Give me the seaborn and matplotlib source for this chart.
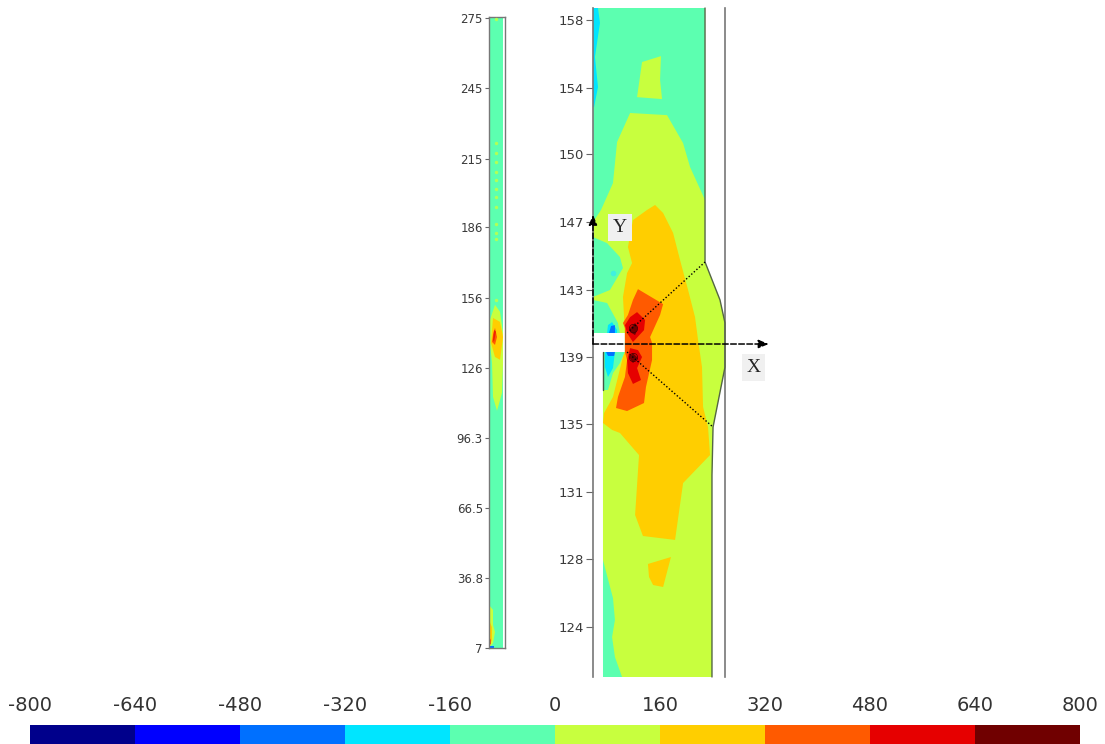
import numpy as np
import pandas as pd
import seaborn as sns
import matplotlib.pyplot as plt
from matplotlib.colors import ListedColormap

# contour bands, low to high
band_edges = [-800, -640, -480, -320, -160, 0, 160, 320, 480, 640, 800]
band_colors = ["#00008b", "#0000ff", "#0070ff", "#00e5ff", "#5cffb0",
               "#c8ff3e", "#ffce00", "#ff5a00", "#e60000", "#700000"]

# zoomed panel, outline of the plate (x mm, y mm)
plate_x = [0, 6.28, 6.28, 7.12, 7.40, 7.40, 6.73, 6.67, 6.67, 0.56, 0.56, 1.79, 1.79, 0]
plate_y = [158.60, 158.60, 144.35, 142.22, 140.93, 138.46, 135.09, 132.40, 121.07,
           121.07, 139.30, 139.30, 140.37, 140.37]

green_x = [2.08, 4.15, 5.05, 5.44, 6.28, 6.28, 7.12, 7.40, 7.40, 6.73, 6.67, 6.67,
           1.63, 1.23, 1.07, 1.23, 1.12, 0.56, 0.56, 1.79, 1.79, 0, 0, 0.45, 1.12, 1.35]
green_y = [152.71, 152.59, 151.02, 149.68, 147.83, 144.35, 142.22, 140.93, 138.46,
           135.09, 132.40, 121.07, 121.07, 122.19, 123.31, 124.27, 125.50, 127.63,
           139.30, 139.30, 140.37, 140.37, 146.59, 147.27, 148.78, 151.08]
green_top_x = [2.75, 3.81, 3.76, 3.87, 2.47]
green_top_y = [155.57, 155.90, 154.56, 153.49, 153.60]

teal_a_x = [0, 0.79, 1.51, 1.68, 0.95, 0]
teal_a_y = [145.75, 145.41, 144.63, 144.01, 142.78, 142.39]
teal_b_x = [0, 0.79, 1.40, 1.51, 0]
teal_b_y = [142.22, 142.05, 140.93, 140.37, 140.37]
teal_c_x = [0.56, 1.79, 1.51, 1.12, 0.84, 0.56]
teal_c_y = [139.30, 139.30, 138.68, 138.12, 137.17, 137.17]

cyan_top_x = [0, 0.28, 0.39, 0.11, 0.28, 0.06, 0]
cyan_top_y = [158.60, 158.60, 157.76, 155.85, 154.16, 153.04, 153.04]
cyan_a_x = [0.79, 0.84, 1.07, 1.35, 1.35]
cyan_a_y = [140.37, 140.81, 140.98, 140.53, 140.37]
cyan_b_x = [0.67, 1.23, 1.12, 0.84, 0.67]
cyan_b_y = [139.30, 139.30, 138.40, 137.90, 138.46]
blue_a_x = [0.90, 1.01, 1.23, 1.23]
blue_a_y = [140.37, 140.76, 140.81, 140.37]
blue_b_x = [0.73, 1.23, 1.18, 0.84]
blue_b_y = [139.30, 139.30, 139.08, 139.08]
cyan_spot_x = [1.12]
cyan_spot_y = [143.73]

gold_x = [3.03, 3.48, 3.93, 4.49, 4.88, 5.33, 5.72, 5.89, 6.11, 6.17, 6.45, 6.56, 5.05,
          4.60, 2.80, 2.36, 2.58, 1.51, 1.07, 0.56, 0.62, 1.12, 1.40, 1.68, 1.79, 1.79,
          1.68, 1.91, 2.19, 1.96, 2.24]
gold_y = [147.27, 147.55, 147.10, 145.98, 144.46, 142.78, 141.26, 139.97, 138.46, 136.22,
          135.09, 133.52, 131.95, 128.76, 128.98, 130.16, 133.52, 134.76, 134.93, 135.32,
          135.88, 136.78, 137.90, 139.02, 139.30, 140.37, 142.39, 143.73, 144.29, 145.19,
          146.70]
gold_small_x = [3.08, 4.37, 3.93, 3.37, 3.14]
gold_small_y = [127.41, 127.80, 126.12, 126.23, 126.68]

orange_x = [2.52, 3.93, 3.76, 3.20, 3.31, 3.31, 2.97, 2.86, 1.91, 1.29, 1.40, 1.79, 1.91,
            1.79, 1.79, 1.79, 1.68, 1.96, 2.24]
orange_y = [142.83, 141.99, 141.38, 140.14, 139.81, 138.85, 137.34, 136.44, 135.99, 136.16,
            136.78, 137.90, 138.85, 139.30, 140.37, 140.65, 140.93, 141.38, 142.22]

red_a_x = [2.47, 2.92, 2.86, 2.24, 1.91, 1.79, 2.08]
red_a_y = [141.54, 141.10, 140.53, 139.86, 140.37, 140.81, 141.26]
red_b_x = [2.08, 2.52, 2.75, 2.47, 2.69, 2.24, 1.96, 1.91]
red_b_y = [139.52, 139.41, 139.02, 138.40, 137.73, 137.51, 138.12, 138.85]
dark_a_x = [2.08, 2.36, 2.52, 2.36, 2.08]
dark_a_y = [140.65, 140.93, 140.65, 140.25, 140.42]
dark_b_x = [2.02, 2.24, 2.52, 2.24]
dark_b_y = [139.02, 139.24, 138.96, 138.68]

# loaded holes
hole_x = [2.24, 2.24]
hole_y = [140.65, 139.02]

# ends of the dotted lines
upper_line_x = [1.91, 6.28]
upper_line_y = [140.37, 144.35]
lower_line_x = [1.91, 6.73]
lower_line_y = [139.30, 135.09]
# short dark edge under the notch
notch_edge_x = [0.56, 0.56]
notch_edge_y = [139.30, 137.17]

zoom_ticks = [123.9, 127.7, 131.46, 135.24, 139.02, 142.8, 146.6, 150.4, 154.1, 157.9]

# whole specimen strip
strip_ticks = [7, 36.8, 66.5, 96.3, 126, 156, 186, 215, 245, 275]
strip_tick_labels = ["7", "36.8", "66.5", "96.3", "126", "156", "186", "215", "245", "275"]

strip_green_x = [2.55, 4.68, 5.96, 5.96, 5.53, 3.40, 1.70, 1.28, 0.43, 0.43]
strip_green_y = [153, 150, 141, 128.3, 115.5, 107.9, 113.8, 128.3, 136.8, 146.6]
strip_gold_x = [1.70, 4.68, 5.96, 4.68, 2.55, 0.85]
strip_gold_y = [147.4, 145.7, 139.3, 129.6, 130.8, 136.8]
strip_orange_x = [2.55, 3.40, 2.55, 1.28, 1.70]
strip_orange_y = [143.2, 139.3, 135.9, 137.2, 140.2]
strip_red_x = [2.13, 2.98, 2.13, 1.70]
strip_red_y = [142.3, 141.5, 137.2, 138]

end_green_x = [0, 1.70, 1.70, 2.55, 1.70, 0.43, 0]
end_green_y = [25.3, 23.2, 16.8, 13.8, 9.1, 7.4, 7.4]
end_gold_x = [0, 1.28, 1.28, 0.43, 0]
end_gold_y = [18.9, 15.9, 10.4, 8.3, 8.3]
end_orange_x = [0, 0.85, 0.85, 0]
end_orange_y = [11.7, 10.4, 8.7, 8.3]
end_blue_x = [0.4, 2.0, 2.0, 0.4]
end_blue_y = [8.0, 8.0, 7, 7]

spot_x = [2.98] * 13
spot_y = [274.7, 221.9, 217.6, 213.8, 209.6, 206.1, 202.3, 198.9, 194.7, 187.4, 183.6, 181, 155]

W, H = 1105, 744
sns.set_style("white")
plt.rcParams["font.family"] = "DejaVu Sans"

fig = plt.figure(figsize=(W / 100, H / 100), dpi=100)


def px_axes(left, top, right, bottom):
    return fig.add_axes([left / W, 1 - bottom / H, (right - left) / W, (bottom - top) / H])


green, gold, orange, red, dark = band_colors[5:10]
teal, cyan, blue = band_colors[4], band_colors[3], band_colors[2]

# ---- right panel ----
ax = px_axes(593, 8, 725, 677)
ax.set_xlim(0, 7.40)
ax.set_ylim(121.07, 158.60)
layers = [
    (plate_x, plate_y, teal), (green_x, green_y, green), (green_top_x, green_top_y, green),
    (teal_a_x, teal_a_y, teal), (teal_b_x, teal_b_y, teal), (teal_c_x, teal_c_y, teal),
    (cyan_top_x, cyan_top_y, cyan), (cyan_a_x, cyan_a_y, cyan), (cyan_b_x, cyan_b_y, cyan),
    (blue_a_x, blue_a_y, blue), (blue_b_x, blue_b_y, blue),
    (gold_x, gold_y, gold), (gold_small_x, gold_small_y, gold), (orange_x, orange_y, orange),
    (red_a_x, red_a_y, red), (red_b_x, red_b_y, red),
    (dark_a_x, dark_a_y, dark), (dark_b_x, dark_b_y, dark),
]
for xs, ys, col in layers:
    ax.fill(xs, ys, color=col, lw=0, zorder=2)
ax.plot(cyan_spot_x, cyan_spot_y, ls="none", marker="o", ms=4, color="#40f0e0", mew=0, zorder=3)

# right edge of the plate
ax.plot(plate_x[1:9], plate_y[1:9], color="#556644", lw=1, zorder=3, clip_on=False)
ax.plot(notch_edge_x, notch_edge_y, color="#445544", lw=1, zorder=3)
ax.plot(upper_line_x, upper_line_y, color="black", lw=1, ls=(0, (1, 1.5)), zorder=4)
ax.plot(lower_line_x, lower_line_y, color="black", lw=1, ls=(0, (1, 1.5)), zorder=4)
ax.plot(hole_x, hole_y, ls="none", marker="o", ms=6, mfc="none", mec="#440000", mew=0.5, zorder=4)

# X / Y axes of the local frame
ax.annotate("", xy=(9.85, 139.75), xytext=(0, 139.75), annotation_clip=False, zorder=5,
            arrowprops=dict(arrowstyle="-|>,head_width=0.25,head_length=0.6", ls="--", lw=1.1,
                            color="black", shrinkA=0, shrinkB=0))
ax.annotate("", xy=(0, 147.0), xytext=(0, 139.75), annotation_clip=False, zorder=5,
            arrowprops=dict(arrowstyle="-|>,head_width=0.25,head_length=0.6", ls="--", lw=1.1,
                            color="black", shrinkA=0, shrinkB=0))
box = dict(facecolor="#f0f0f0", edgecolor="none", pad=3.5)
ax.text(1.51, 146.3, "Y", family="Liberation Serif", fontsize=14, ha="center", va="center",
        bbox=box, zorder=6)
ax.text(9.0, 138.43, "X", family="Liberation Serif", fontsize=14, ha="center", va="center",
        bbox=box, zorder=6, clip_on=False)

ax.set_xticks([])
ax.set_yticks(zoom_ticks)
ax.set_yticklabels([f"{v:.0f}" for v in zoom_ticks])
ax.tick_params(axis="y", left=True, length=5, width=0.8, color="#666666", labelcolor="#3a3a3a",
               labelsize=9.5, pad=1.5)
sns.despine(ax=ax, top=True, bottom=True, right=False)
for side in ["left", "right"]:
    ax.spines[side].set_color("#777777")
    ax.spines[side].set_linewidth(1.2)

# ---- whole specimen ----
ax2 = px_axes(489, 17, 505, 648)
ax2.set_xlim(0, 6.8)
ax2.set_ylim(7, 275.4)
ax2.fill_between([0, 6.1], 7, 275.4, color=teal, lw=0)
for xs, ys, col in [
    (strip_green_x, strip_green_y, green), (strip_gold_x, strip_gold_y, gold),
    (strip_orange_x, strip_orange_y, orange), (strip_red_x, strip_red_y, "#ee2200"),
    (end_green_x, end_green_y, green), (end_gold_x, end_gold_y, gold),
    (end_orange_x, end_orange_y, orange), (end_blue_x, end_blue_y, blue),
]:
    ax2.fill(xs, ys, color=col, lw=0, zorder=2)
sns.scatterplot(data=pd.DataFrame({"x": spot_x, "y": spot_y}), x="x", y="y", ax=ax2, s=6,
                color=green, alpha=0.8, linewidth=0, zorder=3)
ax2.set_xlabel("")
ax2.set_ylabel("")
ax2.set_xticks([])
ax2.set_yticks(strip_ticks)
ax2.set_yticklabels(strip_tick_labels)
ax2.tick_params(axis="y", left=True, length=3, width=0.8, color="#666666", labelcolor="#3a3a3a",
                labelsize=8.5, pad=1.5)
for side in ax2.spines:
    ax2.spines[side].set_color("#777777")
    ax2.spines[side].set_linewidth(1.0)

# ---- colour bar ----
cax = px_axes(30, 725, 1080, 744)
mids = (np.array(band_edges[:-1]) + np.array(band_edges[1:])) / 2
sns.heatmap(pd.DataFrame([mids]), ax=cax, cmap=ListedColormap(band_colors), vmin=-800, vmax=800,
            cbar=False, xticklabels=False, yticklabels=False)
cax.xaxis.tick_top()
cax.set_xticks(np.arange(len(band_edges)))
cax.set_xticklabels([str(v) for v in band_edges], rotation=0)
cax.tick_params(axis="x", top=False, length=0, labelsize=14, labelcolor="#333333", pad=7)

fig.savefig("out.png", dpi=100)
